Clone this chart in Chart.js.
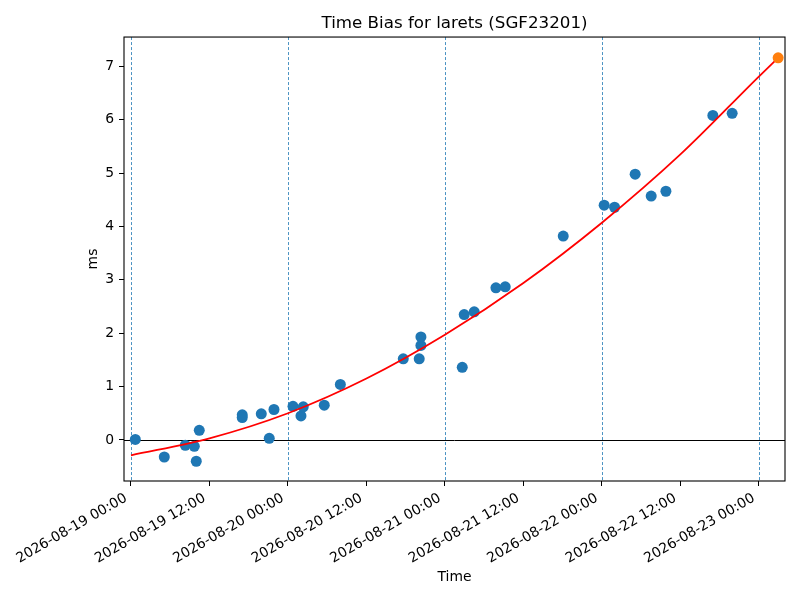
<!DOCTYPE html>
<html>
<head>
<meta charset="utf-8">
<script src="https://cdn.jsdelivr.net/npm/chart.js@4/dist/chart.umd.min.js"></script>
<style>
  html, body { margin: 0; padding: 0; background: #fff; }
  #wrap { width: 800px; height: 600px; }
</style>
</head>
<body>
<div id="wrap"><canvas id="biasChart"></canvas></div>
<script>
// hours since 2026-08-19 00:00
const biasHours = [0.66, 5.09, 8.30, 9.68, 9.98, 10.44, 17.01, 17.01, 19.92, 21.14, 21.86,
  24.77, 25.99, 26.34, 29.55, 32.01, 41.63, 44.07, 44.33, 44.33, 50.65, 50.95, 52.48,
  55.80, 57.22, 66.09, 72.35, 73.94, 77.09, 79.54, 81.79, 88.97, 91.92];
const biasMs = [0.01, -0.32, -0.10, -0.12, -0.40, 0.18, 0.47, 0.42, 0.49, 0.03, 0.57,
  0.63, 0.45, 0.62, 0.65, 1.04, 1.52, 1.52, 1.77, 1.93, 1.36, 2.35, 2.40,
  2.85, 2.87, 3.82, 4.40, 4.36, 4.98, 4.57, 4.66, 6.08, 6.12];

const fitHours = [0, 12, 24, 36, 48, 60, 72, 84, 96, 98.95];
const fitMs = [-0.29, 0.03, 0.50, 1.15, 1.97, 2.94, 4.07, 5.35, 6.81, 7.16];

const predHours = [98.95];
const predMs = [7.16];

const dayLines = [0, 24, 48, 72, 96];
const xTicks = [0, 12, 24, 36, 48, 60, 72, 84, 96];
const xTickLabels = ["2026-08-19 00:00", "2026-08-19 12:00", "2026-08-20 00:00",
  "2026-08-20 12:00", "2026-08-21 00:00", "2026-08-21 12:00", "2026-08-22 00:00",
  "2026-08-22 12:00", "2026-08-23 00:00"];
const yTicks = [0, 1, 2, 3, 4, 5, 6, 7];

const toPoints = (xs, ys) => xs.map((x, i) => ({ x: x, y: ys[i] }));

const refLines = {
  id: "refLines",
  beforeDatasetsDraw(chart) {
    const { ctx, chartArea: a, scales: { x, y } } = chart;
    ctx.save();
    ctx.strokeStyle = "#1f77b4";
    ctx.lineWidth = 0.8;
    ctx.setLineDash([3, 2]);
    dayLines.forEach(h => {
      const px = Math.round(x.getPixelForValue(h)) + 0.5;
      ctx.beginPath();
      ctx.moveTo(px, a.top);
      ctx.lineTo(px, a.bottom);
      ctx.stroke();
    });
    ctx.setLineDash([]);
    ctx.strokeStyle = "#000";
    ctx.lineWidth = 1;
    const py = Math.round(y.getPixelForValue(0)) + 0.5;
    ctx.beginPath();
    ctx.moveTo(a.left, py);
    ctx.lineTo(a.right, py);
    ctx.stroke();
    ctx.restore();
  }
};

const frame = {
  id: "frame",
  afterDraw(chart) {
    const { ctx, chartArea: a } = chart;
    ctx.save();
    ctx.strokeStyle = "#000";
    ctx.lineWidth = 1.1;
    ctx.strokeRect(a.left, a.top, a.right - a.left, a.bottom - a.top);
    ctx.restore();
  }
};

const font = { family: "'DejaVu Sans', sans-serif", size: 13.9 };

new Chart(document.getElementById("biasChart"), {
  type: "scatter",
  data: {
    datasets: [
      {
        label: "prediction",
        data: toPoints(predHours, predMs),
        backgroundColor: "#ff7f0e",
        borderWidth: 0,
        pointRadius: 5.5
      },
      {
        type: "line",
        label: "fit",
        data: toPoints(fitHours, fitMs),
        borderColor: "red",
        borderWidth: 1.8,
        pointRadius: 0,
        cubicInterpolationMode: "monotone",
        fill: false
      },
      {
        label: "bias",
        data: toPoints(biasHours, biasMs),
        backgroundColor: "#1f77b4",
        borderWidth: 0,
        pointRadius: 5.5
      }
    ]
  },
  options: {
    responsive: true,
    maintainAspectRatio: false,
    animation: false,
    events: [],
    layout: { padding: { left: 80, right: 15, top: 0, bottom: 0 } },
    plugins: {
      legend: { display: false },
      tooltip: { enabled: false },
      title: {
        display: true,
        text: "Time Bias for larets (SGF23201)",
        color: "#000",
        fullSize: false,
        font: { family: font.family, size: 16.7, weight: "normal" },
        padding: { top: 14, bottom: 3 }
      }
    },
    scales: {
      x: {
        type: "linear",
        min: -1.07,
        max: 100,
        afterBuildTicks: s => { s.ticks = xTicks.map(v => ({ value: v })); },
        afterFit: s => { s.height = 119; },
        ticks: {
          color: "#000",
          font: font,
          minRotation: 30,
          maxRotation: 30,
          padding: 4,
          labelOffset: -5,
          autoSkip: false,
          callback: v => xTickLabels[xTicks.indexOf(v)]
        },
        grid: { drawOnChartArea: false, tickLength: 5, tickColor: "#000", tickWidth: 1 },
        border: { display: false },
        title: { display: true, text: "Time", color: "#000", font: font, padding: { top: 4, bottom: 14.7 } }
      },
      y: {
        min: -0.77,
        max: 7.55,
        afterBuildTicks: s => { s.ticks = yTicks.map(v => ({ value: v })); },
        afterFit: s => { s.width = 44; },
        ticks: { color: "#000", font: font, padding: 5 },
        grid: { drawOnChartArea: false, tickLength: 5, tickColor: "#000", tickWidth: 1 },
        border: { display: false },
        title: { display: true, text: "ms", color: "#000", font: font, padding: { top: 4.7, bottom: 4 } }
      }
    }
  },
  plugins: [refLines, frame]
});
</script>
</body>
</html>
